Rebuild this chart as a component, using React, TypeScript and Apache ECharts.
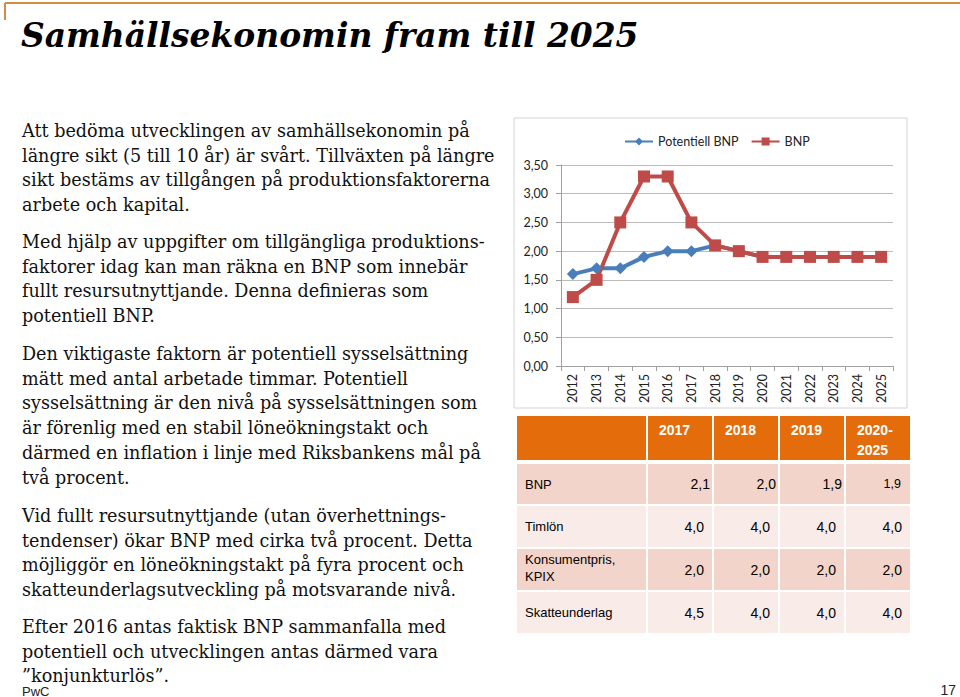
import React, { useEffect, useRef } from "react";
import * as echarts from "echarts";

const years = ["2012", "2013", "2014", "2015", "2016", "2017", "2018", "2019", "2020", "2021", "2022", "2023", "2024", "2025"];
const potentiellBNP = [1.6, 1.7, 1.7, 1.9, 2.0, 2.0, 2.1, 2.0, 1.9, 1.9, 1.9, 1.9, 1.9, 1.9];
const bnp = [1.2, 1.5, 2.5, 3.3, 3.3, 2.5, 2.1, 2.0, 1.9, 1.9, 1.9, 1.9, 1.9, 1.9];
const seriesNames = ["Potentiell BNP", "BNP"];

const tableHeaders = ["2017", "2018", "2019", "2020-\n2025"];
const tableRowLabels = ["BNP", "Timlön", "Konsumentpris,\nKPIX", "Skatteunderlag"];
const tableBNP = [2.1, 2.0, 1.9, 1.9];
const tableTimlon = [4.0, 4.0, 4.0, 4.0];
const tableKPIX = [2.0, 2.0, 2.0, 2.0];
const tableSkatt = [4.5, 4.0, 4.0, 4.0];
const tableRows = [tableBNP, tableTimlon, tableKPIX, tableSkatt];

const title = "Samhällsekonomin fram till 2025";
const paragraphs = [
  [
    "Att bedöma utvecklingen av samhällsekonomin på",
    "längre sikt (5 till 10 år) är svårt. Tillväxten på längre",
    "sikt bestäms av tillgången på produktionsfaktorerna",
    "arbete och kapital.",
  ],
  [
    "Med hjälp av uppgifter om tillgängliga produktions-",
    "faktorer idag kan man räkna en BNP som innebär",
    "fullt resursutnyttjande. Denna definieras som",
    "potentiell BNP.",
  ],
  [
    "Den viktigaste faktorn är potentiell sysselsättning",
    "mätt med antal arbetade timmar. Potentiell",
    "sysselsättning är den nivå på sysselsättningen som",
    "är förenlig med en stabil löneökningstakt och",
    "därmed en inflation i linje med Riksbankens mål på",
    "två procent.",
  ],
  [
    "Vid fullt resursutnyttjande (utan överhettnings-",
    "tendenser) ökar BNP med cirka två procent. Detta",
    "möjliggör en löneökningstakt på fyra procent och",
    "skatteunderlagsutveckling på motsvarande nivå.",
  ],
  [
    "Efter 2016 antas faktisk BNP sammanfalla med",
    "potentiell och utvecklingen antas därmed vara",
    "”konjunkturlös”.",
  ],
];
const footerLeft = "PwC";
const pageNumber = "17";

const fmt = (v: number, d: number) => v.toFixed(d).replace(".", ",");

export default function App() {
  const ref = useRef<HTMLDivElement>(null);
  useEffect(() => {
    if (!ref.current) return;
    const chart = echarts.init(ref.current, undefined, { renderer: "svg" });

    const graphic: any[] = [];
    // top rule
    graphic.push({ type: "line", shape: { x1: 5, y1: 3, x2: 960, y2: 3 }, style: { stroke: "#d38b45", lineWidth: 2 } });
    graphic.push({ type: "line", shape: { x1: 5, y1: 3, x2: 5, y2: 20 }, style: { stroke: "#d38b45", lineWidth: 2 } });
    // title
    graphic.push({
      type: "text", x: 21, y: 35,
      style: { text: title, font: "italic bold 32.9px 'DejaVu Serif'", fill: "#000", verticalAlign: "middle" },
    });
    // body text
    const paraStart = [132, 243, 355, 517, 628];
    paragraphs.forEach((lines, i) => {
      lines.forEach((line, j) => {
        graphic.push({
          type: "text", x: 22, y: paraStart[i] + j * 24.7 - 1,
          style: { text: line, font: "17.6px 'DejaVu Serif'", fill: "#111", verticalAlign: "middle" },
        });
      });
    });
    // footer
    graphic.push({ type: "text", x: 22, y: 691, style: { text: footerLeft, font: "13px 'Liberation Sans'", fill: "#222", verticalAlign: "middle" } });
    graphic.push({ type: "text", x: 956, y: 690, style: { text: pageNumber, font: "14px 'Liberation Sans'", fill: "#222", verticalAlign: "middle", align: "right" } });
    // chart border
    graphic.push({ type: "rect", shape: { x: 514, y: 118, width: 393, height: 290 }, style: { fill: "none", stroke: "#d4d4d4", lineWidth: 1 }, z: -1 });

    // table
    const colX = [517, 648, 714, 780, 846, 912];
    const rowY = [[416, 460], [464, 504], [506, 547], [549, 590], [592, 633]];
    const rowFill = ["#e46c0a", "#f2d4ca", "#f9ebe7", "#f2d4ca", "#f9ebe7"];
    rowY.forEach(([y0, y1], r) => {
      for (let c = 0; c < 5; c++) {
        graphic.push({
          type: "rect",
          shape: { x: colX[c], y: y0, width: colX[c + 1] - colX[c] - 2, height: y1 - y0 },
          style: { fill: rowFill[r] },
        });
      }
    });
    tableHeaders.forEach((h, c) => {
      graphic.push({
        type: "text", x: colX[c + 1] + 11, y: h.includes("\n") ? 440 : 430,
        style: { text: h, font: "bold 14px 'Liberation Sans'", fill: "#fff", verticalAlign: "middle", lineHeight: 20 },
      });
    });
    tableRowLabels.forEach((lab, r) => {
      const [y0, y1] = rowY[r + 1];
      graphic.push({
        type: "text", x: 525, y: (y0 + y1) / 2 + (lab.includes("\n") ? -2 : 0),
        style: { text: lab, font: "13px 'Liberation Sans'", fill: "#000", verticalAlign: "middle", lineHeight: 17 },
      });
      tableRows[r].forEach((v, c) => {
        const bnpRow = r === 0;
        const rightPad = bnpRow ? (c < 3 ? 2 : 9) : 8;
        graphic.push({
          type: "text", x: colX[c + 2] - 2 - rightPad, y: (y0 + y1) / 2,
          style: {
            text: fmt(v, 1),
            font: (bnpRow && c === 3 ? "12.5px" : "14px") + " 'Liberation Sans'",
            fill: "#000", verticalAlign: "middle", align: "right",
          },
        });
      });
    });

    chart.setOption({
      animation: false,
      backgroundColor: "#fff",
      textStyle: { fontFamily: "Lato" },
      legend: {
        data: seriesNames,
        left: 619, top: 130,
        itemWidth: 28, itemHeight: 10, itemGap: 12,
        textStyle: { fontSize: 12.5, color: "#222", fontFamily: "Lato" },
      },
      grid: { left: 561, top: 165, width: 332, height: 201, containLabel: false },
      xAxis: {
        type: "category",
        data: years,
        boundaryGap: true,
        axisLine: { lineStyle: { color: "#a0a0a0" } },
        axisTick: { show: true, interval: 0, length: 5, lineStyle: { color: "#a0a0a0" } },
        axisLabel: { rotate: 90, interval: 0, fontSize: 12.5, color: "#222", margin: 8, fontFamily: "Lato" },
      },
      yAxis: {
        type: "value",
        min: 0, max: 3.5, interval: 0.5,
        axisLine: { show: true, lineStyle: { color: "#a0a0a0" } },
        axisTick: { show: true, length: 5, lineStyle: { color: "#a0a0a0" } },
        axisLabel: { formatter: (v: number) => fmt(v, 2), fontSize: 12.5, color: "#222", margin: 13, fontFamily: "Lato" },
        splitLine: { lineStyle: { color: "#bcbcbc" } },
      },
      series: [
        {
          name: seriesNames[0], type: "line", data: potentiellBNP,
          symbol: "diamond", symbolSize: 12,
          itemStyle: { color: "#4a7ebb" }, lineStyle: { width: 4, color: "#4a7ebb" },
        },
        {
          name: seriesNames[1], type: "line", data: bnp,
          symbol: "rect", symbolSize: 12,
          itemStyle: { color: "#be4b48" }, lineStyle: { width: 4, color: "#be4b48" },
        },
      ],
      graphic,
    });
    return () => chart.dispose();
  }, []);
  return <div ref={ref} style={{ position: "absolute", left: 0, top: 0, width: 960, height: 697 }} />;
}
